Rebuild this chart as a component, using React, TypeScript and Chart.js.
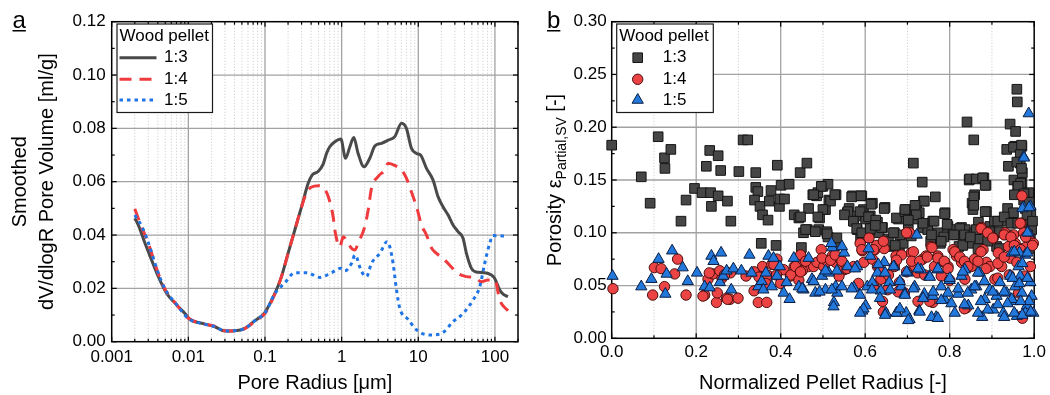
import React, { useEffect, useRef } from 'react';
import { Chart, registerables } from 'chart.js';
Chart.register(...registerables);

const FONT = '"Liberation Sans", Arial, Helvetica, sans-serif';
Chart.defaults.font.family = FONT;

// ---------- Panel a: pore size distribution ----------
const seriesLabels = ['1:3', '1:4', '1:5'];
const legendTitle = 'Wood pellet';

const radius13 = [0.002, 0.00222, 0.00272, 0.00332, 0.00406, 0.00522, 0.00704, 0.00903, 0.0105, 0.0165, 0.0222, 0.03, 0.0405, 0.0547, 0.0738, 0.0977, 0.1346, 0.164, 0.2, 0.245, 0.3, 0.366, 0.412, 0.494, 0.574, 0.635, 0.7, 0.815, 0.977, 1.125, 1.28, 1.44, 1.64, 1.96, 2.33, 2.71, 3.31, 4.04, 4.94, 6.04, 7.0, 8.15, 9.5, 10.7, 12.8, 15.6, 18.1, 21, 24.5, 28.4, 33, 38.4, 42.5, 49.4, 60.2, 73.6, 90, 99, 115.6, 127.7, 148];
const volume13 = [0.0463, 0.0438, 0.0369, 0.0306, 0.0244, 0.0181, 0.0138, 0.0106, 0.0084, 0.0066, 0.0056, 0.004, 0.0041, 0.005, 0.0079, 0.0106, 0.0181, 0.0244, 0.0331, 0.0419, 0.0506, 0.0594, 0.0625, 0.0638, 0.0666, 0.0706, 0.0731, 0.075, 0.076, 0.0688, 0.0731, 0.0766, 0.0706, 0.0656, 0.0688, 0.0734, 0.0744, 0.0756, 0.0769, 0.0819, 0.08, 0.0725, 0.0706, 0.07, 0.065, 0.0606, 0.0544, 0.0506, 0.0475, 0.0438, 0.0413, 0.0388, 0.0331, 0.0275, 0.026, 0.0259, 0.025, 0.0238, 0.0194, 0.0178, 0.0169];

const radius14 = [0.002, 0.0025, 0.003, 0.004, 0.005, 0.007, 0.01, 0.015, 0.022, 0.03, 0.04, 0.055, 0.075, 0.1, 0.135, 0.164, 0.2, 0.245, 0.3, 0.35, 0.4, 0.5, 0.604, 0.68, 0.775, 0.815, 0.946, 1.05, 1.2, 1.35, 1.49, 1.64, 2.0, 2.22, 2.45, 3.0, 3.66, 4.04, 5.0, 6.04, 7.0, 8.55, 9.5, 11, 12.8, 15, 17.3, 21, 27, 33, 42.5, 55, 66.7, 81, 100, 115.6, 148];
const volume14 = [0.0498, 0.0425, 0.037, 0.026, 0.0195, 0.014, 0.0088, 0.0068, 0.0058, 0.0041, 0.004, 0.005, 0.0078, 0.0106, 0.018, 0.0244, 0.0331, 0.0419, 0.0506, 0.056, 0.0579, 0.0585, 0.0571, 0.0538, 0.0469, 0.0419, 0.0356, 0.0394, 0.037, 0.035, 0.0344, 0.0369, 0.0431, 0.0494, 0.0575, 0.062, 0.0644, 0.0669, 0.066, 0.0644, 0.0613, 0.0544, 0.0506, 0.0438, 0.04, 0.035, 0.0331, 0.0313, 0.028, 0.0256, 0.0244, 0.024, 0.0225, 0.0231, 0.0231, 0.0156, 0.0116];

const radius15 = [0.002, 0.0025, 0.003, 0.004, 0.005, 0.007, 0.01, 0.015, 0.022, 0.03, 0.04, 0.055, 0.075, 0.1, 0.135, 0.182, 0.245, 0.348, 0.52, 0.74, 0.977, 1.1, 1.35, 1.49, 1.82, 2.11, 2.45, 3.15, 3.92, 4.25, 4.69, 5.2, 5.74, 7.37, 9.5, 14.1, 20.1, 28.4, 38.4, 51.8, 63.3, 73.6, 85.5, 94.4, 141];
const volume15 = [0.0475, 0.043, 0.0372, 0.0262, 0.0196, 0.014, 0.0087, 0.0068, 0.0057, 0.004, 0.0041, 0.005, 0.008, 0.0108, 0.0181, 0.0221, 0.0259, 0.0259, 0.0241, 0.0259, 0.0275, 0.0266, 0.0294, 0.0325, 0.0263, 0.0244, 0.0294, 0.0331, 0.0375, 0.0356, 0.0294, 0.0194, 0.0125, 0.0084, 0.0044, 0.0025, 0.0031, 0.0075, 0.0106, 0.0156, 0.0206, 0.0294, 0.0369, 0.0398, 0.0396];

const poreTickValues = [0.001, 0.01, 0.1, 1, 10, 100];
const poreTickLabels = ['0.001', '0.01', '0.1', '1', '10', '100'];
const poreMax = 200;
const volumeTicks = [0, 0.02, 0.04, 0.06, 0.08, 0.1, 0.12];
const volumeMinorTicks = [0.01, 0.03, 0.05, 0.07, 0.09, 0.11];
const poreTitle = 'Pore Radius [μm]';
const volumeTitle = ['Smoothed', 'dV/dlogR Pore Volume [ml/g]'];

// ---------- Panel b: porosity vs. normalized radius ----------
const porosity13: [number, number][] = [
  [0, 0.183], [0.07, 0.153], [0.091, 0.128], [0.11, 0.191], [0.125, 0.171], [0.126, 0.161], [0.14, 0.179], [0.164, 0.111], [0.176, 0.131], [0.196, 0.142], [0.214, 0.138], [0.224, 0.163], [0.232, 0.178], [0.236, 0.125], [0.234, 0.138], [0.252, 0.173], [0.252, 0.135], [0.258, 0.159], [0.274, 0.13], [0.282, 0.111], [0.301, 0.158], [0.311, 0.188], [0.322, 0.188], [0.341, 0.157], [0.341, 0.143], [0.346, 0.139], [0.338, 0.131], [0.351, 0.125], [0.357, 0.117], [0.37, 0.112], [0.354, 0.09], [0.373, 0.13], [0.377, 0.14], [0.389, 0.088], [0.392, 0.164], [0.397, 0.125], [0.398, 0.132], [0.401, 0.145], [0.409, 0.132], [0.42, 0.146], [0.432, 0.117], [0.443, 0.114], [0.449, 0.086], [0.446, 0.157], [0.462, 0.166], [0.454, 0.1], [0.463, 0.103], [0.466, 0.123], [0.476, 0.136], [0.485, 0.135], [0.488, 0.138], [0.492, 0.114], [0.49, 0.103], [0.5, 0.144], [0.506, 0.122], [0.512, 0.146], [0.514, 0.131], [0.518, 0.13], [0.509, 0.101], [0.512, 0.096], [0.531, 0.136], [0.558, 0.119], [0.562, 0.123], [0.57, 0.135], [0.573, 0.111], [0.579, 0.116], [0.581, 0.103], [0.592, 0.135], [0.596, 0.122], [0.589, 0.094], [0.601, 0.113], [0.612, 0.116], [0.617, 0.128], [0.62, 0.103], [0.629, 0.11], [0.633, 0.1], [0.641, 0.105], [0.647, 0.124], [0.653, 0.094], [0.665, 0.087], [0.669, 0.1], [0.679, 0.113], [0.681, 0.087], [0.69, 0.09], [0.697, 0.122], [0.702, 0.103], [0.709, 0.097], [0.714, 0.166], [0.716, 0.113], [0.722, 0.124], [0.728, 0.119], [0.735, 0.148], [0.738, 0.13], [0.736, 0.105], [0.748, 0.103], [0.755, 0.092], [0.76, 0.111], [0.766, 0.134], [0.772, 0.1], [0.778, 0.09], [0.786, 0.096], [0.789, 0.119], [0.796, 0.106], [0.808, 0.103], [0.816, 0.098], [0.822, 0.087], [0.828, 0.105], [0.837, 0.103], [0.841, 0.205], [0.846, 0.15], [0.853, 0.128], [0.857, 0.188], [0.859, 0.136], [0.855, 0.122], [0.859, 0.1], [0.871, 0.094], [0.881, 0.152], [0.886, 0.145], [0.887, 0.12], [0.895, 0.106], [0.906, 0.111], [0.911, 0.087], [0.923, 0.1], [0.931, 0.111], [0.937, 0.123], [0.935, 0.179], [0.939, 0.163], [0.943, 0.203], [0.951, 0.119], [0.952, 0.15], [0.956, 0.196], [0.959, 0.236], [0.96, 0.224], [0.954, 0.182], [0.961, 0.144], [0.967, 0.166], [0.971, 0.182], [0.972, 0.157], [0.975, 0.131], [0.971, 0.147], [0.979, 0.123], [0.983, 0.109], [0.987, 0.138], [0.991, 0.098], [0.994, 0.103], [0.992, 0.119],
  [0.496, 0.144], [0.478, 0.136], [0.528, 0.136], [0.568, 0.134], [0.59, 0.135], [0.614, 0.127], [0.645, 0.123], [0.5, 0.122], [0.488, 0.115], [0.447, 0.115], [0.559, 0.12], [0.551, 0.117], [0.588, 0.12], [0.572, 0.111], [0.608, 0.115], [0.625, 0.112], [0.639, 0.105], [0.674, 0.114], [0.694, 0.12], [0.459, 0.103], [0.482, 0.101], [0.51, 0.099], [0.58, 0.104], [0.592, 0.1], [0.612, 0.104], [0.624, 0.107], [0.655, 0.092], [0.671, 0.088], [0.682, 0.098], [0.667, 0.1], [0.529, 0.088], [0.533, 0.095],
  [0.74, 0.13], [0.718, 0.126], [0.694, 0.122], [0.721, 0.117], [0.788, 0.118], [0.702, 0.112], [0.737, 0.109], [0.763, 0.111], [0.794, 0.108], [0.757, 0.098], [0.78, 0.092], [0.824, 0.104], [0.835, 0.098], [0.847, 0.09], [0.831, 0.088], [0.81, 0.098], [0.847, 0.151], [0.863, 0.151], [0.878, 0.152], [0.884, 0.145], [0.857, 0.134], [0.857, 0.126], [0.884, 0.12], [0.868, 0.11], [0.863, 0.103], [0.849, 0.096], [0.894, 0.101], [0.914, 0.111], [0.929, 0.115], [0.918, 0.101], [0.89, 0.092], [0.937, 0.098], [0.945, 0.109], [0.951, 0.181], [0.97, 0.183], [0.967, 0.174], [0.959, 0.167], [0.97, 0.161], [0.968, 0.147], [0.962, 0.144], [0.953, 0.136], [0.976, 0.137], [0.988, 0.129], [0.983, 0.117], [0.996, 0.111], [0.984, 0.098], [0.961, 0.109], [0.988, 0.085], [0.961, 0.085], [0.867, 0.085], [0.918, 0.085],
];

const porosity14: [number, number][] = [
  [0.003, 0.047], [0.097, 0.041], [0.101, 0.067], [0.117, 0.066], [0.125, 0.049], [0.149, 0.061], [0.156, 0.075], [0.176, 0.041], [0.22, 0.041], [0.228, 0.056], [0.24, 0.061], [0.248, 0.034], [0.25, 0.043], [0.261, 0.057], [0.272, 0.038], [0.28, 0.037], [0.281, 0.062], [0.299, 0.038], [0.318, 0.059], [0.347, 0.034], [0.367, 0.034], [0.351, 0.062], [0.357, 0.068], [0.371, 0.059], [0.379, 0.07], [0.391, 0.075], [0.407, 0.065], [0.423, 0.059], [0.432, 0.068], [0.443, 0.064], [0.454, 0.072], [0.466, 0.068], [0.478, 0.068], [0.486, 0.072], [0.496, 0.084], [0.502, 0.068], [0.51, 0.073], [0.522, 0.078], [0.53, 0.072], [0.542, 0.075], [0.55, 0.065], [0.538, 0.059], [0.573, 0.068], [0.593, 0.083], [0.597, 0.072], [0.609, 0.095], [0.617, 0.075], [0.623, 0.084], [0.629, 0.068], [0.645, 0.085], [0.637, 0.056], [0.641, 0.035], [0.653, 0.046], [0.669, 0.068], [0.673, 0.078], [0.681, 0.053], [0.693, 0.043], [0.705, 0.1], [0.709, 0.081], [0.717, 0.068], [0.724, 0.062], [0.736, 0.075], [0.744, 0.078], [0.756, 0.087], [0.764, 0.068], [0.772, 0.078], [0.78, 0.059], [0.76, 0.034], [0.788, 0.072], [0.796, 0.068], [0.808, 0.084], [0.816, 0.078], [0.828, 0.072], [0.836, 0.056], [0.84, 0.029], [0.851, 0.068], [0.859, 0.075], [0.875, 0.105], [0.879, 0.084], [0.887, 0.072], [0.895, 0.068], [0.903, 0.095], [0.907, 0.056], [0.915, 0.081], [0.923, 0.068], [0.931, 0.1], [0.939, 0.087], [0.943, 0.076], [0.951, 0.098], [0.955, 0.09], [0.959, 0.072], [0.971, 0.135], [0.969, 0.109], [0.975, 0.1], [0.979, 0.086], [0.987, 0.097], [0.991, 0.068], [0.998, 0.09], [0.979, 0.059], [0.971, 0.021], [0.963, 0.043],
  [0.231, 0.062], [0.256, 0.064], [0.267, 0.06], [0.216, 0.04], [0.274, 0.037], [0.337, 0.063], [0.349, 0.058], [0.368, 0.06], [0.384, 0.07], [0.39, 0.06], [0.4, 0.052], [0.424, 0.06], [0.435, 0.068], [0.451, 0.064], [0.443, 0.055], [0.337, 0.045], [0.365, 0.052],
  [0.627, 0.088], [0.643, 0.092], [0.588, 0.09], [0.592, 0.084], [0.62, 0.084], [0.498, 0.076], [0.518, 0.074], [0.529, 0.079], [0.545, 0.073], [0.557, 0.066], [0.447, 0.079], [0.459, 0.073], [0.447, 0.063], [0.686, 0.079], [0.698, 0.1], [0.674, 0.074], [0.635, 0.065], [0.655, 0.06], [0.584, 0.052], [0.62, 0.05], [0.643, 0.025], [0.678, 0.044],
  [0.714, 0.082], [0.71, 0.073], [0.729, 0.073], [0.747, 0.077], [0.758, 0.086], [0.772, 0.076], [0.787, 0.073], [0.796, 0.066], [0.812, 0.082], [0.824, 0.077], [0.835, 0.073], [0.843, 0.068], [0.874, 0.104], [0.89, 0.1], [0.902, 0.095], [0.874, 0.082], [0.867, 0.073], [0.886, 0.066], [0.914, 0.071], [0.929, 0.077], [0.929, 0.098], [0.945, 0.096], [0.953, 0.088], [0.967, 0.109], [0.98, 0.096], [0.996, 0.088], [0.968, 0.084], [0.941, 0.06], [0.914, 0.057], [0.698, 0.063], [0.741, 0.06], [0.8, 0.055], [0.835, 0.028], [0.753, 0.035], [0.725, 0.035], [0.972, 0.019],
];

const porosity15: [number, number][] = [
  [0.002, 0.059], [0.07, 0.049], [0.094, 0.056], [0.111, 0.075], [0.127, 0.042], [0.13, 0.061], [0.143, 0.083], [0.168, 0.067], [0.18, 0.054], [0.202, 0.062], [0.22, 0.049], [0.232, 0.048], [0.236, 0.078], [0.241, 0.073], [0.259, 0.081], [0.256, 0.053], [0.264, 0.059], [0.272, 0.064], [0.283, 0.046], [0.288, 0.066], [0.307, 0.064], [0.326, 0.079], [0.331, 0.062], [0.347, 0.049], [0.355, 0.054], [0.359, 0.046], [0.365, 0.062], [0.371, 0.078], [0.383, 0.076], [0.379, 0.049], [0.391, 0.059], [0.398, 0.068], [0.407, 0.043], [0.414, 0.053], [0.421, 0.037], [0.431, 0.076], [0.443, 0.049], [0.454, 0.046], [0.466, 0.076], [0.474, 0.056], [0.482, 0.043], [0.498, 0.059], [0.506, 0.046], [0.514, 0.062], [0.526, 0.034], [0.53, 0.049], [0.534, 0.043], [0.522, 0.086], [0.55, 0.081], [0.558, 0.068], [0.573, 0.048], [0.581, 0.068], [0.593, 0.026], [0.601, 0.031], [0.605, 0.049], [0.612, 0.078], [0.617, 0.053], [0.629, 0.062], [0.637, 0.045], [0.645, 0.072], [0.649, 0.024], [0.657, 0.053], [0.669, 0.068], [0.675, 0.024], [0.685, 0.049], [0.693, 0.042], [0.697, 0.024], [0.701, 0.062], [0.705, 0.018], [0.717, 0.049], [0.722, 0.098], [0.728, 0.026], [0.732, 0.065], [0.74, 0.042], [0.752, 0.059], [0.76, 0.04], [0.768, 0.02], [0.772, 0.065], [0.78, 0.049], [0.788, 0.037], [0.8, 0.055], [0.812, 0.024], [0.82, 0.042], [0.828, 0.059], [0.836, 0.065], [0.844, 0.031], [0.851, 0.046], [0.863, 0.049], [0.871, 0.062], [0.877, 0.02], [0.883, 0.037], [0.895, 0.046], [0.903, 0.027], [0.911, 0.04], [0.919, 0.053], [0.927, 0.024], [0.935, 0.043], [0.943, 0.059], [0.947, 0.081], [0.951, 0.035], [0.955, 0.049], [0.959, 0.021], [0.963, 0.068], [0.967, 0.059], [0.971, 0.043], [0.975, 0.172], [0.975, 0.124], [0.979, 0.079], [0.983, 0.031], [0.987, 0.213], [0.991, 0.125], [0.987, 0.1], [0.991, 0.053], [0.994, 0.04], [0.998, 0.024], [0.979, 0.024], [0.947, 0.037],
  [0.52, 0.09], [0.545, 0.087], [0.608, 0.085], [0.576, 0.066], [0.533, 0.064], [0.506, 0.064], [0.478, 0.054], [0.451, 0.047], [0.492, 0.044], [0.521, 0.046], [0.545, 0.049], [0.568, 0.047], [0.588, 0.041], [0.616, 0.046], [0.631, 0.07], [0.647, 0.062], [0.667, 0.068], [0.682, 0.054], [0.635, 0.038], [0.659, 0.046], [0.525, 0.03], [0.596, 0.028], [0.588, 0.024], [0.647, 0.022], [0.674, 0.024],
  [0.698, 0.063], [0.725, 0.066], [0.753, 0.058], [0.772, 0.066], [0.8, 0.057], [0.831, 0.063], [0.867, 0.062], [0.694, 0.041], [0.714, 0.047], [0.737, 0.038], [0.761, 0.044], [0.78, 0.036], [0.796, 0.043], [0.82, 0.047], [0.843, 0.043], [0.859, 0.049], [0.882, 0.054], [0.902, 0.044], [0.929, 0.044], [0.949, 0.057], [0.965, 0.052], [0.984, 0.057], [0.972, 0.071], [0.965, 0.081], [0.953, 0.082], [0.984, 0.081], [0.976, 0.171], [0.972, 0.123], [0.988, 0.124], [0.984, 0.1], [0.702, 0.017], [0.729, 0.025], [0.757, 0.02], [0.772, 0.019], [0.867, 0.024], [0.89, 0.027], [0.929, 0.02], [0.953, 0.024], [0.972, 0.022], [0.992, 0.025], [0.988, 0.035], [0.968, 0.035], [0.937, 0.033], [0.914, 0.032], [0.874, 0.035], [0.835, 0.032], [0.804, 0.033], [0.682, 0.028],
];

const radiusTicks = [0, 0.2, 0.4, 0.6, 0.8, 1.0];
const radiusMinorTicks = [0.1, 0.3, 0.5, 0.7, 0.9];
const porosityTicks = [0, 0.05, 0.1, 0.15, 0.2, 0.25, 0.3];
const porosityMinorTicks = [0.025, 0.075, 0.125, 0.175, 0.225, 0.275];
const radiusTitle = 'Normalized Pellet Radius [-]';
const porosityTitleMain = 'Porosity ε';
const porosityTitleSub = 'Partial,SV';
const porosityTitleEnd = ' [-]';

// ---------- styles ----------
const lineColors = ['#4a4a4a', '#ef3b3d', '#1f74e6'];
const lineDashes: number[][] = [[], [12, 8], [3.5, 4]];
const markerFill = ['#464646', '#ec4444', '#2378db'];
const markerBorder = ['#151515', '#4a0d0d', '#0b1e44'];

const poreMinorTicks: number[] = [];
for (const d of poreTickValues) {
  for (let m = 2; m <= 9; m++) {
    const v = m * d;
    if (v <= poreMax + 1e-9) poreMinorTicks.push(v);
  }
}

const toPoints = (xs: number[], ys: number[]) => xs.map((x, i) => ({ x, y: ys[i] }));
const pairPoints = (p: [number, number][]) => p.map(([x, y]) => ({ x, y }));

function drawMarker(ctx: CanvasRenderingContext2D, kind: number, x: number, y: number) {
  ctx.save();
  ctx.fillStyle = markerFill[kind];
  ctx.strokeStyle = markerBorder[kind];
  ctx.lineWidth = 1;
  ctx.beginPath();
  if (kind === 0) {
    ctx.rect(x - 4.8, y - 4.8, 9.6, 9.6);
  } else if (kind === 1) {
    ctx.arc(x, y, 5.2, 0, Math.PI * 2);
  } else {
    const r = 6.5;
    ctx.moveTo(x, y - r);
    ctx.lineTo(x + r * Math.sin((2 * Math.PI) / 3), y - r * Math.cos((2 * Math.PI) / 3));
    ctx.lineTo(x + r * Math.sin((4 * Math.PI) / 3), y - r * Math.cos((4 * Math.PI) / 3));
    ctx.closePath();
  }
  ctx.fill();
  ctx.stroke();
  ctx.restore();
}

type DecorCfg = {
  xMajor: number[];
  xMinor: number[];
  xMinorGrid: boolean;
  yMajor: number[];
  yMinor: number[];
  letter: string;
  letterX: number;
  legend: (ctx: CanvasRenderingContext2D, a: any) => void;
  extra?: (ctx: CanvasRenderingContext2D, a: any) => void;
};

function makeDecor(cfg: DecorCfg) {
  return {
    id: 'decor',
    beforeDatasetsDraw(chart: any) {
      const { ctx, chartArea: a } = chart;
      const xs = chart.scales.x;
      const ys = chart.scales.y;
      ctx.save();
      const vline = (p: number, y0: number, y1: number) => {
        ctx.beginPath();
        ctx.moveTo(p, y0);
        ctx.lineTo(p, y1);
        ctx.stroke();
      };
      const hline = (p: number, x0: number, x1: number) => {
        ctx.beginPath();
        ctx.moveTo(x0, p);
        ctx.lineTo(x1, p);
        ctx.stroke();
      };
      if (cfg.xMinorGrid) {
        ctx.lineWidth = 1;
        ctx.strokeStyle = '#d0d0d0';
        ctx.setLineDash([1.2, 1.8]);
        for (const v of cfg.xMinor) {
          const p = xs.getPixelForValue(v);
          if (p <= a.left + 1 || p >= a.right - 1) continue;
          vline(p, a.top, a.bottom);
        }
        ctx.setLineDash([]);
      }
      ctx.strokeStyle = '#a2a2a2';
      ctx.lineWidth = 1.3;
      for (const v of cfg.xMajor) {
        const p = xs.getPixelForValue(v);
        if (p <= a.left + 1 || p >= a.right - 1) continue;
        vline(p, a.top, a.bottom);
      }
      for (const v of cfg.yMajor) {
        const p = ys.getPixelForValue(v);
        if (p <= a.top + 1 || p >= a.bottom - 1) continue;
        hline(p, a.left, a.right);
      }
      // ticks (inward, all four sides)
      ctx.strokeStyle = '#000';
      ctx.lineWidth = 1.2;
      const tick = (vals: number[], len: number) => {
        for (const v of vals) {
          const p = xs.getPixelForValue(v);
          vline(p, a.bottom, a.bottom - len);
          vline(p, a.top, a.top + len);
        }
      };
      const tickY = (vals: number[], len: number) => {
        for (const v of vals) {
          const p = ys.getPixelForValue(v);
          hline(p, a.left, a.left + len);
          hline(p, a.right, a.right - len);
        }
      };
      tick(cfg.xMajor, 5);
      tick(cfg.xMinor, 3);
      tickY(cfg.yMajor, 5);
      tickY(cfg.yMinor, 3);
      // frame
      ctx.lineWidth = 1.5;
      ctx.strokeStyle = '#000';
      ctx.strokeRect(a.left, a.top, a.right - a.left, a.bottom - a.top);
      ctx.restore();
    },
    afterDatasetsDraw(chart: any) {
      const { ctx, chartArea: a } = chart;
      ctx.save();
      cfg.legend(ctx, a);
      // panel letter, underlined
      ctx.fillStyle = '#000';
      ctx.font = `24px ${FONT}`;
      ctx.textAlign = 'left';
      ctx.textBaseline = 'alphabetic';
      ctx.fillText(cfg.letter, cfg.letterX, 28);
      const w = ctx.measureText(cfg.letter).width;
      ctx.fillRect(cfg.letterX, 30, w, 1.5);
      if (cfg.extra) cfg.extra(ctx, a);
      ctx.restore();
    },
  };
}

function legendBox(ctx: CanvasRenderingContext2D, bx: number, by: number, bw: number, bh: number) {
  ctx.fillStyle = '#fff';
  ctx.fillRect(bx, by, bw, bh);
  ctx.strokeStyle = '#1a1a1a';
  ctx.lineWidth = 1.2;
  ctx.strokeRect(bx, by, bw, bh);
  ctx.fillStyle = '#000';
  ctx.font = `17px ${FONT}`;
  ctx.textAlign = 'left';
  ctx.textBaseline = 'middle';
  ctx.fillText(legendTitle, bx + 2.5, by + 12.5);
}

const rowY = [57.7, 79.3, 100];

function legendLines(ctx: CanvasRenderingContext2D, a: any) {
  const bx = a.left + 5.3;
  const by = 24;
  legendBox(ctx, bx, by, 95.5, 88.5);
  for (let i = 0; i < 3; i++) {
    ctx.save();
    ctx.strokeStyle = lineColors[i];
    ctx.lineWidth = 3;
    ctx.setLineDash(lineDashes[i]);
    ctx.beginPath();
    ctx.moveTo(bx + 2.5, rowY[i]);
    ctx.lineTo(bx + 39.5, rowY[i]);
    ctx.stroke();
    ctx.restore();
    ctx.fillStyle = '#000';
    ctx.font = `17px ${FONT}`;
    ctx.textBaseline = 'middle';
    ctx.fillText(seriesLabels[i], bx + 47, rowY[i]);
  }
}

function legendMarkers(ctx: CanvasRenderingContext2D, a: any) {
  const bx = a.left + 5;
  const by = 24;
  legendBox(ctx, bx, by, 96.6, 88.5);
  for (let i = 0; i < 3; i++) {
    drawMarker(ctx, i, bx + 21, rowY[i]);
    ctx.fillStyle = '#000';
    ctx.font = `17px ${FONT}`;
    ctx.textBaseline = 'middle';
    ctx.textAlign = 'left';
    ctx.fillText(seriesLabels[i], bx + 46, rowY[i]);
  }
}

function porosityTitle(ctx: CanvasRenderingContext2D, a: any) {
  const cy = (a.top + a.bottom) / 2;
  const big = `20px ${FONT}`;
  const small = `14px ${FONT}`;
  const parts = [
    { t: porosityTitleMain, f: big, dy: 0 },
    { t: porosityTitleSub, f: small, dy: 4.5 },
    { t: porosityTitleEnd, f: big, dy: 0 },
  ];
  let total = 0;
  const widths = parts.map((p) => {
    ctx.font = p.f;
    const w = ctx.measureText(p.t).width;
    total += w;
    return w;
  });
  ctx.save();
  ctx.translate(36, cy);
  ctx.rotate(-Math.PI / 2);
  ctx.fillStyle = '#000';
  ctx.textAlign = 'left';
  ctx.textBaseline = 'alphabetic';
  let x = -total / 2;
  parts.forEach((p, i) => {
    ctx.font = p.f;
    ctx.fillText(p.t, x, p.dy);
    x += widths[i];
  });
  ctx.restore();
}

const tickFont = { family: FONT, size: 17 };
const titleFont = { family: FONT, size: 20, lineHeight: 1.2 };

function PoreChart() {
  const ref = useRef<HTMLCanvasElement>(null);
  useEffect(() => {
    if (!ref.current) return;
    const series = [
      { x: radius13, y: volume13 },
      { x: radius14, y: volume14 },
      { x: radius15, y: volume15 },
    ];
    const chart = new Chart(ref.current, {
      type: 'line',
      data: {
        datasets: series.map((s, i) => ({
          label: seriesLabels[i],
          data: toPoints(s.x, s.y),
          borderColor: lineColors[i],
          backgroundColor: lineColors[i],
          borderWidth: 3,
          borderDash: lineDashes[i],
          borderCapStyle: 'butt',
          pointRadius: 0,
          fill: false,
          cubicInterpolationMode: 'monotone',
          order: 2 - i,
        })) as any,
      },
      options: {
        animation: false,
        responsive: false,
        events: [],
        layout: { padding: { top: 21.7, right: 7, left: 0, bottom: 0 } },
        plugins: { legend: { display: false }, tooltip: { enabled: false } },
        scales: {
          x: {
            type: 'logarithmic',
            min: 0.001,
            max: poreMax,
            afterBuildTicks: (s: any) => {
              s.ticks = poreTickValues.map((value) => ({ value }));
            },
            afterFit: (s: any) => {
              s.height = 53.3;
            },
            grid: { display: false, drawTicks: false },
            border: { display: false },
            ticks: {
              autoSkip: false,
              maxRotation: 0,
              minRotation: 0,
              padding: 5,
              color: '#000',
              font: tickFont,
              callback: (_v: any, i: number) => poreTickLabels[i],
            },
            title: { display: true, text: poreTitle, color: '#000', font: titleFont, padding: 0 },
          },
          y: {
            type: 'linear',
            min: 0,
            max: 0.12,
            afterBuildTicks: (s: any) => {
              s.ticks = volumeTicks.map((value) => ({ value }));
            },
            afterFit: (s: any) => {
              s.width = 111.7;
            },
            grid: { display: false, drawTicks: false },
            border: { display: false },
            ticks: {
              padding: 6,
              color: '#000',
              font: tickFont,
              callback: (v: any) => Number(v).toFixed(2),
            },
            title: {
              display: true,
              text: volumeTitle,
              color: '#000',
              font: { family: FONT, size: 20, lineHeight: 1.37 },
              padding: { top: 6.8, bottom: 0 },
            },
          },
        },
      } as any,
      plugins: [
        makeDecor({
          xMajor: poreTickValues,
          xMinor: poreMinorTicks,
          xMinorGrid: true,
          yMajor: volumeTicks,
          yMinor: volumeMinorTicks,
          letter: 'a',
          letterX: 12.5,
          legend: legendLines,
        }) as any,
      ],
    });
    return () => chart.destroy();
  }, []);
  return <canvas ref={ref} width={525} height={395} style={{ display: 'block', width: 525, height: 395 }} />;
}

function PorosityChart() {
  const ref = useRef<HTMLCanvasElement>(null);
  useEffect(() => {
    if (!ref.current) return;
    const sets = [porosity13, porosity14, porosity15];
    const styles = ['rect', 'circle', 'triangle'];
    const radii = [6.8, 5.2, 6.5];
    const chart = new Chart(ref.current, {
      type: 'scatter',
      data: {
        datasets: sets.map((s, i) => ({
          label: seriesLabels[i],
          data: pairPoints(s),
          pointStyle: styles[i],
          pointRadius: radii[i],
          pointBackgroundColor: markerFill[i],
          pointBorderColor: markerBorder[i],
          pointBorderWidth: 1,
          clip: false,
          order: 2 - i,
        })) as any,
      },
      options: {
        animation: false,
        responsive: false,
        events: [],
        layout: { padding: { top: 21.7, right: 13.3, left: 0, bottom: 0 } },
        plugins: { legend: { display: false }, tooltip: { enabled: false } },
        scales: {
          x: {
            type: 'linear',
            min: 0,
            max: 1,
            afterBuildTicks: (s: any) => {
              s.ticks = radiusTicks.map((value) => ({ value }));
            },
            afterFit: (s: any) => {
              s.height = 56.7;
            },
            grid: { display: false, drawTicks: false },
            border: { display: false },
            ticks: {
              autoSkip: false,
              maxRotation: 0,
              minRotation: 0,
              padding: 4,
              color: '#000',
              font: tickFont,
              callback: (v: any) => Number(v).toFixed(1),
            },
            title: { display: true, text: radiusTitle, color: '#000', font: titleFont, padding: 0 },
          },
          y: {
            type: 'linear',
            min: 0,
            max: 0.3,
            afterBuildTicks: (s: any) => {
              s.ticks = porosityTicks.map((value) => ({ value }));
            },
            afterFit: (s: any) => {
              s.width = 86.7;
            },
            grid: { display: false, drawTicks: false },
            border: { display: false },
            ticks: {
              padding: 5,
              color: '#000',
              font: tickFont,
              callback: (v: any) => Number(v).toFixed(2),
            },
            title: { display: false },
          },
        },
      } as any,
      plugins: [
        makeDecor({
          xMajor: radiusTicks,
          xMinor: radiusMinorTicks,
          xMinorGrid: true,
          yMajor: porosityTicks,
          yMinor: porosityMinorTicks,
          letter: 'b',
          letterX: 22,
          legend: legendMarkers,
          extra: porosityTitle,
        }) as any,
      ],
    });
    return () => chart.destroy();
  }, []);
  return <canvas ref={ref} width={525} height={395} style={{ display: 'block', width: 525, height: 395 }} />;
}

export default function App() {
  return (
    <div
      style={{
        position: 'fixed',
        left: 0,
        top: 0,
        width: 1050,
        height: 395,
        display: 'flex',
        background: '#fff',
        overflow: 'hidden',
      }}
    >
      <PoreChart />
      <PorosityChart />
    </div>
  );
}
